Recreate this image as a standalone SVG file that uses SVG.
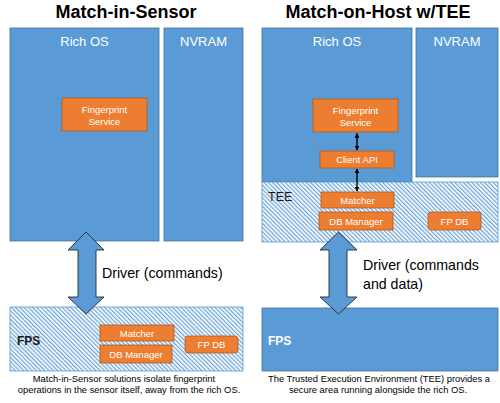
<svg xmlns="http://www.w3.org/2000/svg" width="500" height="403" viewBox="0 0 500 403">
<style>
text{font-family:"Liberation Sans",Arial,sans-serif}
.title{font-size:18px;font-weight:bold;fill:#000;text-anchor:middle}
.blue{fill:#5B9BD5;stroke:#41719C;stroke-width:0.8}
.hatch{fill:url(#hatch);stroke:#5B9BD5;stroke-width:0.8}
.orange{fill:#ED7D31;stroke:#AE5A21;stroke-width:0.8}
.lbl{fill:#fff;font-size:13px;text-anchor:middle}
.sm{fill:#fff;font-size:9.5px;text-anchor:middle}
.drv{fill:#000;font-size:14.2px}
.cap{fill:#000;font-size:9.4px;text-anchor:middle}
.big{fill:#5B9BD5;stroke:#1F2A36;stroke-width:0.9}
.thin{stroke:#000;stroke-width:1.4;fill:none;marker-start:url(#ah);marker-end:url(#ah)}
</style>
<defs>
<pattern id="hatch" patternUnits="userSpaceOnUse" width="3" height="3" patternTransform="rotate(-45)">
<rect width="3" height="3" fill="#fff"/>
<rect width="1.3" height="3" fill="#6FA6DA"/>
</pattern>
<marker id="ah" viewBox="0 0 10 10" refX="9" refY="5" markerWidth="3.5" markerHeight="3.5" orient="auto-start-reverse">
<path d="M0,0 L10,5 L0,10 z" fill="#000"/>
</marker>
</defs>
<rect width="500" height="403" fill="#fff"/>
<g id="titles">
<text class="title" x="126" y="18">Match-in-Sensor</text>
<text class="title" x="378" y="18">Match-on-Host w/TEE</text>
</g>
<!-- Left side -->
<g id="left-richos"><rect class="blue" x="10" y="28" width="149" height="213"/><text class="lbl" x="84.5" y="46">Rich OS</text></g>
<g id="left-nvram"><rect class="blue" x="164" y="28" width="79" height="213"/><text class="lbl" x="203.5" y="46">NVRAM</text></g>
<g id="left-fps-service"><rect class="orange" x="62" y="98" width="85" height="33"/><text class="sm" x="104.5" y="113">Fingerprint</text><text class="sm" x="104.5" y="125">Service</text></g>
<g id="left-fps"><rect class="hatch" x="10" y="307" width="233" height="64"/><text x="17" y="345" style="font-size:12px;font-weight:bold;fill:#1a1a1a">FPS</text></g>
<g id="left-matcher"><rect class="orange" x="100" y="325" width="74" height="16"/><text class="sm" x="137" y="336.5">Matcher</text></g>
<g id="left-dbmanager"><rect class="orange" x="100" y="345" width="72" height="18"/><text class="sm" x="136" y="357.5">DB Manager</text></g>
<g id="left-fpdb"><rect class="orange" x="185" y="336" width="53" height="17" rx="3"/><text class="sm" x="211.5" y="348">FP DB</text></g>
<!-- Right side -->
<g id="right-richos"><rect class="blue" x="262" y="28" width="150" height="154"/><text class="lbl" x="337" y="46">Rich OS</text></g>
<g id="right-nvram"><rect class="blue" x="416" y="28" width="82" height="149"/><text class="lbl" x="457" y="46">NVRAM</text></g>
<g id="right-tee"><rect class="hatch" x="262" y="182" width="236" height="60"/><text x="268" y="201" style="font-size:12.5px;fill:#1a1a1a">TEE</text></g>
<g id="right-fps-service"><rect class="orange" x="313" y="99" width="85" height="33"/><text class="sm" x="355.5" y="114">Fingerprint</text><text class="sm" x="355.5" y="126">Service</text></g>
<g id="right-clientapi"><rect class="orange" x="320" y="151" width="74" height="17"/><text class="sm" x="357" y="163">Client API</text></g>
<g id="right-matcher"><rect class="orange" x="321" y="192" width="73" height="16"/><text class="sm" x="357.5" y="203.5">Matcher</text></g>
<g id="right-dbmanager"><rect class="orange" x="319" y="212" width="74" height="18"/><text class="sm" x="356" y="224.5">DB Manager</text></g>
<g id="right-fpdb"><rect class="orange" x="428" y="212" width="53" height="18" rx="3"/><text class="sm" x="454.5" y="224.5">FP DB</text></g>
<g id="right-fps"><rect class="blue" x="262" y="308" width="236" height="63"/><text x="268" y="345" style="font-size:12px;font-weight:bold;fill:#fff">FPS</text></g>
<!-- Connectors -->
<g id="connectors">
<polygon class="big" points="86,232 104,250 96,250 96,297 104,297 86,314 68,297 78,297 78,250 68,250"/>
<polygon class="big" points="338.5,232 357,250 347,250 347,297 357,297 338.5,314 320,297 329,297 329,250 320,250"/>
<line class="thin" x1="357" y1="133.5" x2="357" y2="150"/>
<line class="thin" x1="357" y1="169" x2="357" y2="191"/>
</g>
<g id="labels">
<text class="drv" x="102" y="278">Driver (commands)</text>
<text class="drv" x="363" y="270">Driver (commands</text>
<text class="drv" x="363" y="289">and data)</text>
<text class="cap" x="124" y="382">Match-in-Sensor solutions isolate fingerprint</text>
<text class="cap" x="129" y="393">operations in the sensor itself, away from the rich OS.</text>
<text class="cap" x="379" y="382">The Trusted Execution Environment (TEE) provides a</text>
<text class="cap" x="378" y="393">secure area running alongside the rich OS.</text>
</g>
</svg>
